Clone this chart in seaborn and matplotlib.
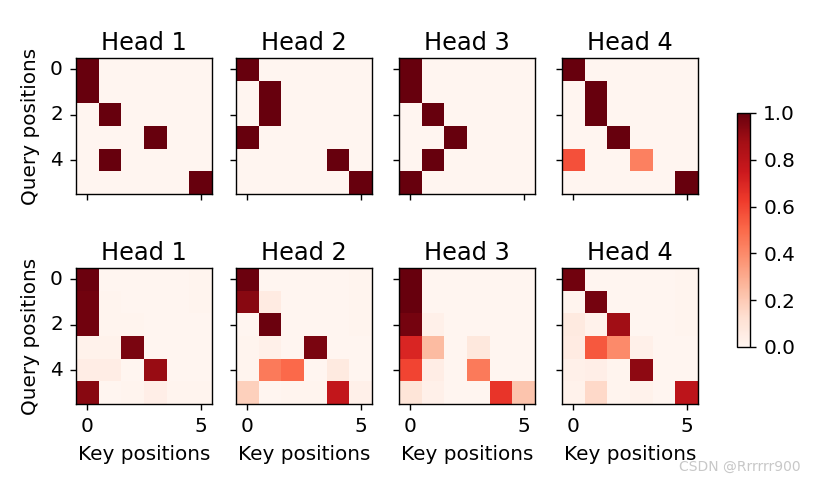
import numpy as np
import matplotlib
matplotlib.use("Agg")
import matplotlib.pyplot as plt
import seaborn as sns

titles = ["Head 1", "Head 2", "Head 3", "Head 4"]
xlabel = "Key positions"
ylabel = "Query positions"
x_ticks = [0, 5]
y_ticks = [0, 2, 4]
cbar_ticks = [0.0, 0.2, 0.4, 0.6, 0.8, 1.0]

# top row (row index = query, col index = key)
top_head1 = [[1, 0, 0, 0, 0, 0],
             [1, 0, 0, 0, 0, 0],
             [0, 1, 0, 0, 0, 0],
             [0, 0, 0, 1, 0, 0],
             [0, 1, 0, 0, 0, 0],
             [0, 0, 0, 0, 0, 1]]
top_head2 = [[1, 0, 0, 0, 0, 0],
             [0, 1, 0, 0, 0, 0],
             [0, 1, 0, 0, 0, 0],
             [1, 0, 0, 0, 0, 0],
             [0, 0, 0, 0, 1, 0],
             [0, 0, 0, 0, 0, 1]]
top_head3 = [[1, 0, 0, 0, 0, 0],
             [1, 0, 0, 0, 0, 0],
             [0, 1, 0, 0, 0, 0],
             [0, 0, 1, 0, 0, 0],
             [0, 1, 0, 0, 0, 0],
             [1, 0, 0, 0, 0, 0]]
top_head4 = [[1, 0, 0, 0, 0, 0],
             [0, 1, 0, 0, 0, 0],
             [0, 1, 0, 0, 0, 0],
             [0, 0, 1, 0, 0, 0],
             [0.57, 0, 0, 0.43, 0, 0],
             [0, 0, 0, 0, 0, 1]]

bot_head1 = [[0.99, 0.0, 0.0, 0.0, 0.0, 0.01],
             [0.98, 0.01, 0.0, 0.0, 0.0, 0.01],
             [0.98, 0.01, 0.01, 0.0, 0.0, 0.0],
             [0.02, 0.02, 0.96, 0.0, 0.0, 0.0],
             [0.05, 0.05, 0.0, 0.9, 0.0, 0.0],
             [0.93, 0.0, 0.01, 0.04, 0.01, 0.01]]
bot_head2 = [[0.99, 0.0, 0.0, 0.0, 0.0, 0.01],
             [0.93, 0.06, 0.0, 0.0, 0.0, 0.01],
             [0.0, 0.99, 0.0, 0.0, 0.0, 0.01],
             [0.01, 0.03, 0.0, 0.96, 0.0, 0.0],
             [0.01, 0.45, 0.5, 0.0, 0.07, 0.0],
             [0.18, 0.0, 0.01, 0.01, 0.78, 0.03]]
bot_head3 = [[1.0, 0.0, 0.0, 0.0, 0.0, 0.0],
             [1.0, 0.0, 0.0, 0.0, 0.0, 0.0],
             [0.97, 0.03, 0.0, 0.0, 0.0, 0.0],
             [0.7, 0.25, 0.0, 0.08, 0.0, 0.0],
             [0.6, 0.05, 0.0, 0.45, 0.0, 0.0],
             [0.1, 0.03, 0.0, 0.0, 0.65, 0.22]]
bot_head4 = [[0.98, 0.0, 0.0, 0.0, 0.0, 0.01],
             [0.01, 0.97, 0.0, 0.0, 0.0, 0.01],
             [0.07, 0.02, 0.88, 0.0, 0.0, 0.01],
             [0.06, 0.55, 0.4, 0.03, 0.0, 0.0],
             [0.03, 0.04, 0.01, 0.92, 0.0, 0.0],
             [0.02, 0.15, 0.01, 0.02, 0.0, 0.8]]

rows = [[top_head1, top_head2, top_head3, top_head4],
        [bot_head1, bot_head2, bot_head3, bot_head4]]

sns.set_theme(style="white")
plt.rcParams["font.family"] = ["DejaVu Sans"]
plt.rcParams["font.size"] = 14
plt.rcParams["text.color"] = "black"
plt.rcParams["axes.labelcolor"] = "black"
plt.rcParams["xtick.color"] = "black"
plt.rcParams["ytick.color"] = "black"

fig = plt.figure(figsize=(8.14, 4.8), dpi=100)
W, H = 814, 480
lefts = [76, 236, 399, 562]
tops = [58, 268]
size = 136

for r, row in enumerate(rows):
    for c, mat in enumerate(row):
        ax = fig.add_axes([lefts[c] / W, 1 - (tops[r] + size) / H, size / W, size / H])
        sns.heatmap(np.array(mat), ax=ax, cmap="Reds", vmin=0, vmax=1,
                    cbar=False, square=True)
        for s in ax.spines.values():
            s.set_visible(True)
            s.set_color("black")
            s.set_linewidth(1.0)
        ax.set_xticks([t + 0.5 for t in x_ticks])
        ax.set_xticklabels([str(t) for t in x_ticks], rotation=0)
        ax.set_yticks([t + 0.5 for t in y_ticks])
        ax.set_yticklabels([str(t) for t in y_ticks], rotation=0)
        ax.tick_params(axis="both", which="both", length=4.5, width=1,
                       direction="out", labelsize=14.4, bottom=True, left=True,
                       colors="black", pad=5)
        ax.set_title(titles[c], fontsize=17.3, color="black")
        if r == 0:
            ax.tick_params(labelbottom=False)
        else:
            ax.set_xlabel(xlabel, fontsize=14.4, color="black", labelpad=6)
        if c != 0:
            ax.tick_params(labelleft=False)
        else:
            ax.set_ylabel(ylabel, fontsize=14.4, color="black", labelpad=7)

cax = fig.add_axes([737 / W, 1 - 347 / H, 13 / W, 234 / H])
norm = matplotlib.colors.Normalize(vmin=0, vmax=1)
cb = fig.colorbar(matplotlib.cm.ScalarMappable(norm=norm, cmap="Reds"), cax=cax)
cb.set_ticks(cbar_ticks)
cb.ax.tick_params(labelsize=14.4, length=4.5, width=1, colors="black", pad=5)
cb.outline.set_edgecolor("black")
cb.outline.set_linewidth(1.0)

fig.text(0.983, 0.012, "CSDN @Rrrrrr900", ha="right", va="bottom",
         fontsize=10, color="#c8c8c8")

fig.savefig("out.png", dpi=100)
